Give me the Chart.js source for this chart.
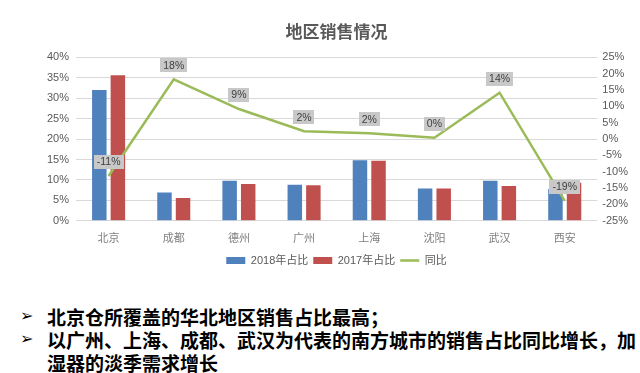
<!DOCTYPE html>
<html>
<head>
<meta charset="utf-8">
<script src="https://cdn.jsdelivr.net/npm/chart.js@4.4.0/dist/chart.umd.min.js"></script>
<style>
    html, body { margin: 0; padding: 0; background: #fff; }
    body { width: 640px; height: 373px; position: relative; overflow: hidden; font-family: "Noto Sans CJK SC", sans-serif; }
    #chartBox { position: absolute; left: 30px; top: 0; width: 610px; height: 276px; }
    .notes { position: absolute; left: 0; top: 305px; width: 640px; margin: 0; padding: 0; list-style: none; }
    .notes li { position: relative; padding-left: 47px; font-size: 19px; line-height: 23px; font-weight: bold; color: #000; }
    .notes li::before { content: "\27A2"; position: absolute; left: 20px; top: -1px; font-size: 16px; font-family: "DejaVu Sans", sans-serif; }
</style>
</head>
<body>
<div id="chartBox"><canvas id="salesChart"></canvas></div>
<ul class="notes">
    <li>北京仓所覆盖的华北地区销售占比最高；</li>
    <li>以广州、上海、成都、武汉为代表的南方城市的销售占比同比增长，加湿器的淡季需求增长</li>
</ul>
<script>
// ---- Data ----
const cities = ['北京', '成都', '德州', '广州', '上海', '沈阳', '武汉', '西安'];
const share2018 = [32, 6.9, 9.8, 8.8, 14.8, 7.9, 9.8, 7.8];
const share2017 = [35.6, 5.6, 9.0, 8.7, 14.7, 7.9, 8.5, 9.3];
const yoy = [-11.3, 18.3, 9.2, 2.4, 1.8, 0.4, 14.2, -18.9];
const shareRange = [0, 40];
const yoyRange = [-25, 25];
const tickStep = 5;

const BLUE = '#4F81BD';
const RED = '#C0504D';
const GREEN = '#9BBB59';
const TEXT = '#595959';

Chart.defaults.font.family = '"Liberation Sans", "Noto Sans CJK SC", sans-serif';

// ---- YoY value labels (grey boxes above the line) ----
const yoyLabels = {
    id: 'yoyLabels',
    afterDatasetsDraw(chart) {
        const meta = chart.getDatasetMeta(2);
        const ctx = chart.ctx;
        ctx.save();
        ctx.font = '10.5px "Liberation Sans", sans-serif';
        ctx.textAlign = 'center';
        ctx.textBaseline = 'middle';
        meta.data.forEach((pt, i) => {
            const text = Math.round(yoy[i]) + '%';
            const w = ctx.measureText(text).width + 6;
            const h = 14;
            const cy = pt.y - 14;
            ctx.fillStyle = '#c8c8c8';
            ctx.fillRect(Math.round(pt.x - w / 2), Math.round(cy - h / 2), Math.round(w), h);
            ctx.fillStyle = '#404040';
            ctx.fillText(text, pt.x, cy + 0.5);
        });
        ctx.restore();
    }
};

const pct = v => v + '%';

new Chart(document.getElementById('salesChart'), {
    data: {
        labels: cities,
        datasets: [
            { type: 'bar', label: '2018年占比', data: share2018, backgroundColor: BLUE, yAxisID: 'y', order: 2, categoryPercentage: 0.57, barPercentage: 0.78 },
            { type: 'bar', label: '2017年占比', data: share2017, backgroundColor: RED, yAxisID: 'y', order: 2, categoryPercentage: 0.57, barPercentage: 0.78 },
            { type: 'line', label: '同比', data: yoy, borderColor: GREEN, backgroundColor: GREEN, borderWidth: 2.5, pointRadius: 0, tension: 0, yAxisID: 'y1', order: 1 }
        ]
    },
    options: {
        responsive: true,
        maintainAspectRatio: false,
        animation: false,
        layout: { padding: { left: 10, right: 7 } },
        plugins: {
            title: {
                display: true,
                text: '地区销售情况',
                color: TEXT,
                font: { size: 17, weight: 'bold', family: '"Noto Sans CJK SC", sans-serif' },
                padding: { top: 21, bottom: 16 }
            },
            legend: {
                position: 'bottom',
                labels: {
                    usePointStyle: true,
                    pointStyleWidth: 19,
                    boxHeight: 7,
                    color: TEXT,
                    font: { size: 11 },
                    padding: 5,
                    sort: (a, b) => a.datasetIndex - b.datasetIndex,
                    generateLabels(chart) {
                        const items = Chart.defaults.plugins.legend.labels.generateLabels(chart);
                        items.forEach(it => {
                            const ds = chart.data.datasets[it.datasetIndex];
                            if (ds.type === 'line') {
                                it.pointStyle = 'line';
                                it.lineWidth = 2.5;
                                it.strokeStyle = ds.borderColor;
                            } else {
                                it.pointStyle = 'rect';
                                it.lineWidth = 0;
                            }
                        });
                        return items;
                    }
                }
            },
            tooltip: { enabled: false }
        },
        scales: {
            x: {
                grid: { display: false },
                border: { display: false },
                ticks: { color: '#7f7f7f', font: { size: 11 }, padding: 4 }
            },
            y: {
                position: 'left',
                min: shareRange[0],
                max: shareRange[1],
                ticks: { stepSize: tickStep, callback: pct, color: TEXT, font: { size: 11 }, padding: 7 },
                grid: { color: '#d9d9d9', drawTicks: false },
                border: { display: false }
            },
            y1: {
                position: 'right',
                min: yoyRange[0],
                max: yoyRange[1],
                ticks: { stepSize: tickStep, autoSkip: false, callback: pct, color: TEXT, font: { size: 11 }, padding: 5 },
                grid: { display: false, drawTicks: false },
                border: { display: false }
            }
        }
    },
    plugins: [yoyLabels]
});
</script>
</body>
</html>
